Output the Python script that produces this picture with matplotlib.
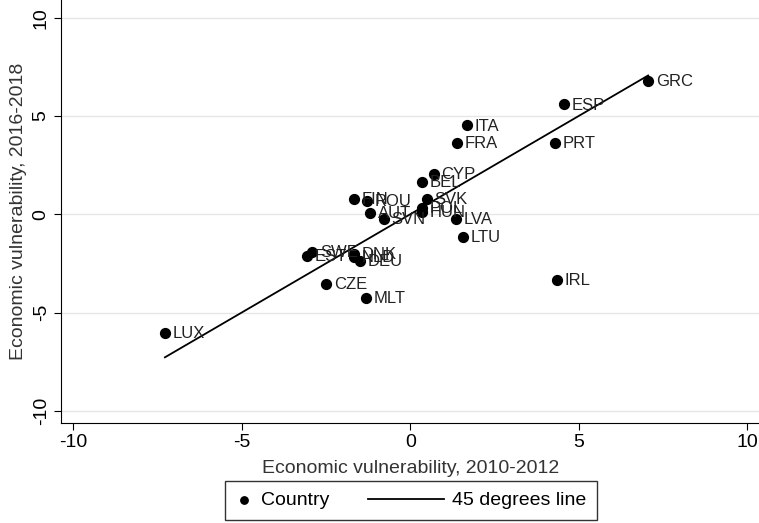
import matplotlib.pyplot as plt
from matplotlib.legend_handler import HandlerLine2D, HandlerPathCollection
import numpy as np

plt.rcParams['font.family'] = ['Liberation Sans', 'DejaVu Sans']

# data
countries = ['GRC', 'ESP', 'ITA', 'FRA', 'PRT', 'CYP', 'BEL', 'FIN', 'ROU', 'SVK',
             'POL', 'HUN', 'AUT', 'SVN', 'LVA', 'LTU', 'SWE', 'EST', 'DNK', 'NLD',
             'DEU', 'CZE', 'MLT', 'IRL', 'LUX']
vul_2010 = [7.06, 4.55, 1.68, 1.39, 4.31, 0.70, 0.36, -1.67, -1.28, 0.49,
            0.36, 0.36, -1.18, -0.79, 1.35, 1.56, -2.91, -3.06, -1.67, -1.67,
            -1.48, -2.50, -1.31, 4.36, -7.28]
vul_2016 = [6.79, 5.59, 4.52, 3.62, 3.62, 2.07, 1.63, 0.80, 0.66, 0.76,
            0.31, 0.12, 0.05, -0.25, -0.22, -1.14, -1.92, -2.12, -2.02, -2.16,
            -2.36, -3.55, -4.24, -3.34, -6.04]
ticks = [-10, -5, 0, 5, 10]


class LongLine(HandlerLine2D):
    # line that reaches further left than the (short) handle box
    def get_xdata(self, legend, xdescent, ydescent, width, height, fontsize):
        xdata = [-xdescent - 3.0 * fontsize, -xdescent + width]
        return xdata, [-xdescent + 0.5 * width]


fig = plt.figure(figsize=(7.59, 5.23), dpi=100)
ax = fig.add_axes([0.081, 0.192, 0.919, 0.808])

pts = ax.scatter(vul_2010, vul_2016, s=50, color='black', zorder=3, label='Country')
for name, x, y in zip(countries, vul_2010, vul_2016):
    ax.annotate(name, (x, y), xytext=(5.5, -0.5), textcoords='offset points',
                fontsize=12, color='#222222', va='center', zorder=4)

# 45 degree line across the range of the data
lo, hi = min(vul_2010), max(vul_2010)
ln, = ax.plot([lo, hi], [lo, hi], color='black', lw=1.3, zorder=2, label='45 degrees line')

ax.set_xlim(-10.35, 10.35)
ax.set_ylim(-10.6, 10.9)
ax.set_xticks(ticks)
ax.set_yticks(ticks)
ax.set_xticklabels([str(t) for t in ticks], fontsize=14)
ax.set_yticklabels([str(t) for t in ticks], fontsize=14, rotation=90, va='center')
ax.tick_params(direction='out', length=5, color='black')
ax.yaxis.grid(True, color='#e6e6e6', lw=1)
ax.set_axisbelow(True)
for s in ['top', 'right']:
    ax.spines[s].set_visible(False)

ax.set_xlabel('Economic vulnerability, 2010-2012', fontsize=14, color='#333333', labelpad=6)
ax.set_ylabel('Economic vulnerability, 2016-2018', fontsize=14, color='#333333', labelpad=4)

leg = fig.legend([pts, ln], ['Country', '45 degrees line'],
                 loc='center', bbox_to_anchor=(0.541, 0.043), ncol=2, fontsize=14,
                 frameon=True, fancybox=False, edgecolor='black',
                 handlelength=0.9, handletextpad=0.4, columnspacing=5.0,
                 borderpad=0.55, scatterpoints=1, markerscale=0.75,
                 handler_map={ln: LongLine()})
leg.get_frame().set_linewidth(1)

fig.savefig('out.png', dpi=100)
